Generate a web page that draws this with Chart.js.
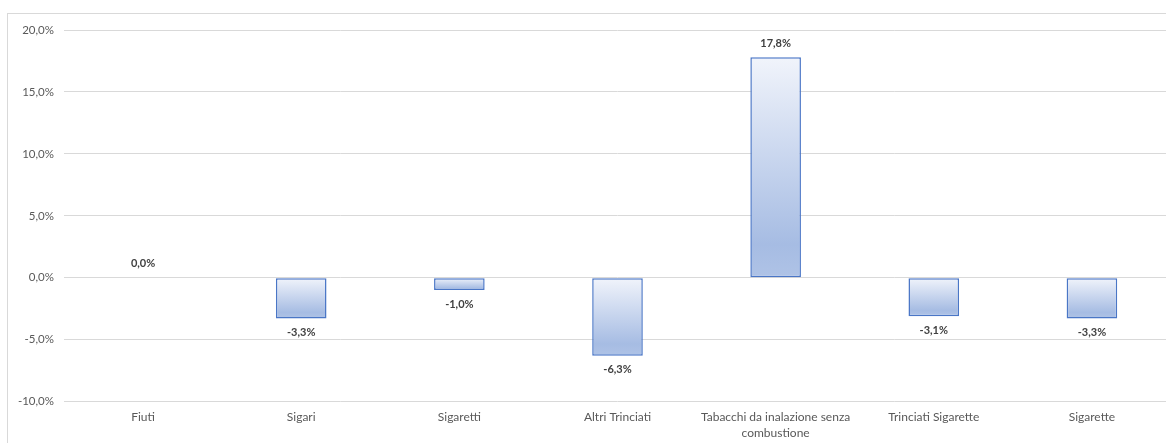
<!DOCTYPE html>
<html>
<head>
<meta charset="utf-8">
<script src="https://cdn.jsdelivr.net/npm/chart.js@4"></script>
<style>
  html, body { margin: 0; padding: 0; background: #fff; overflow: hidden; }
  #frame { position: absolute; left: 7px; top: 13px; width: 1200px; height: 500px; border: 1px solid #d9d9d9; }
  #wrap { position: absolute; left: 0; top: 0; width: 1171px; height: 452px; }
</style>
</head>
<body>
<div id="frame"></div>
<div id="wrap"><canvas id="myChart" width="1171" height="452"></canvas></div>
<script>
// categories and values (variation %)
var categories = [
  "Fiuti",
  "Sigari",
  "Sigaretti",
  "Altri Trinciati",
  ["Tabacchi da inalazione senza", "combustione"],
  "Trinciati Sigarette",
  "Sigarette"
];
var variation = [0.0, -3.3, -1.0, -6.3, 17.8, -3.1, -3.3];
var yTicks = { min: -10, max: 20, step: 5 };

function pct(v) {
  return v.toFixed(1).replace('.', ',') + '%';
}

// per-bar vertical gradient, light at the top, darker towards the bottom
function barFill(context) {
  var chart = context.chart;
  if (!chart.chartArea) return '#c9d6ee';
  var y = chart.scales.y;
  var v = context.raw;
  var top = y.getPixelForValue(Math.max(v, 0));
  var bottom = y.getPixelForValue(Math.min(v, 0));
  if (bottom - top < 1) bottom = top + 1;
  var g = chart.ctx.createLinearGradient(0, top, 0, bottom);
  g.addColorStop(0, '#f1f4fb');
  g.addColorStop(0.85, '#a6bce3');
  g.addColorStop(1, '#afc3e6');
  return g;
}

// simple value labels above / below the bars
var valueLabels = {
  id: 'valueLabels',
  afterDatasetsDraw: function(chart) {
    var ctx = chart.ctx;
    var meta = chart.getDatasetMeta(0);
    ctx.save();
    ctx.font = 'bold 11px Lato';
    ctx.fillStyle = '#404040';
    ctx.textAlign = 'center';
    ctx.textBaseline = 'middle';
    meta.data.forEach(function(bar, i) {
      var v = variation[i];
      var yPos = v >= 0 ? bar.y - 14 : bar.y + 14;
      ctx.fillText(pct(v), bar.x, yPos);
    });
    ctx.restore();
  }
};

var ctx = document.getElementById("myChart");
var myChart = new Chart(ctx, {
  type: 'bar',
  data: {
    labels: categories,
    datasets: [
      {
        data: variation,
        backgroundColor: barFill,
        borderColor: '#4a76c6',
        borderWidth: function(c) { return c.raw === 0 ? 0 : 1.5; },
        borderSkipped: false,
        categoryPercentage: 1,
        barPercentage: 0.32
      }
    ]
  },
  options: {
    responsive: false,
    animation: false,
    layout: { padding: { top: 30, right: 0, bottom: 4, left: 0 } },
    plugins: {
      legend: { display: false },
      tooltip: { enabled: false }
    },
    scales: {
      x: {
        grid: { display: false, drawTicks: false },
        border: { display: false },
        ticks: {
          color: '#595959',
          font: { family: 'Lato', size: 12, lineHeight: 1.35 },
          padding: 7,
          maxRotation: 0,
          autoSkip: false
        }
      },
      y: {
        min: yTicks.min,
        max: yTicks.max,
        afterFit: function(scale) { scale.width = 64; },
        grid: { color: '#d9d9d9', lineWidth: 1, drawTicks: false },
        border: { display: false },
        ticks: {
          stepSize: yTicks.step,
          color: '#595959',
          font: { family: 'Lato', size: 11.5 },
          padding: 10,
          callback: function(v) { return pct(v); }
        }
      }
    }
  },
  plugins: [valueLabels]
});
</script>
</body>
</html>
